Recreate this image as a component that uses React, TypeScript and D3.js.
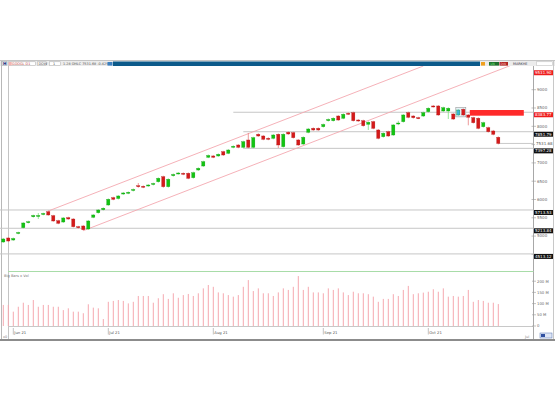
import React from 'react';
import * as d3 from 'd3';

const W = 555;
const H = 400;

// ---- Data (daily candles) ----
const opens = [4839,4948,4893,5071,5230,5366,5527,5549,5590,5667,5557,5421,5385,5503,5467,5257,5276,5194,5514,5639,5721,5850,6049,6027,6150,6169,6246,6377,6361,6369,6410,6486,6623,6350,6650,6705,6716,6716,6596,6806,6915,7153,7189,7189,7306,7262,7426,7489,7426,7626,7426,7781,7735,7672,7672,7781,7443,7836,7825,7626,7516,7836,7945,7945,7989,8153,8153,8281,8219,8355,8372,8172,8153,8055,8126,7899,7716,7852,7762,8063,8126,8372,8281,8235,8281,8399,8555,8555,8418,8418,8336,8309,8464,8309,8235,8219,7989,7962,7872,7699];
const closes = [4921,4866,4934,5098,5358,5393,5563,5563,5618,5577,5413,5350,5495,5467,5257,5230,5175,5413,5577,5713,5760,6005,6005,6096,6178,6197,6273,6361,6333,6396,6437,6579,6350,6552,6683,6724,6689,6579,6732,6852,7033,7202,7153,7235,7216,7352,7454,7426,7579,7426,7689,7735,7645,7645,7762,7489,7781,7790,7689,7489,7699,7926,7899,7899,8049,8186,8219,8172,8328,8336,8153,8145,8016,8109,7945,7672,7809,7735,8036,8090,8309,8246,8235,8219,8372,8492,8536,8309,8508,8492,8199,8445,8309,8246,8098,7945,8098,7852,7781,7531.68];
const highs = [4950,4975,4960,5120,5380,5420,5585,5631,5640,5700,5580,5445,5520,5530,5490,5280,5300,5440,5600,5740,5785,6030,6075,6120,6205,6220,6300,6450,6385,6420,6460,6605,6650,6580,6710,6750,6740,6740,6760,6880,7060,7230,7215,7260,7330,7380,7480,7515,7605,7817,7715,7810,7760,7700,7790,7805,7810,7860,7850,7650,7725,7955,7970,7970,8075,8215,8245,8305,8355,8380,8400,8195,8180,8135,8150,7925,7835,7880,8060,8150,8335,8400,8305,8260,8400,8520,8580,8580,8535,8520,8360,8470,8490,8335,8260,8245,8125,7990,7900,7725];
const lows = [4815,4840,4870,5050,5210,5345,5505,5467,5570,5555,5390,5325,5360,5445,5235,5205,5150,5170,5490,5615,5700,5825,5980,6000,6125,6145,6220,6320,6310,6345,6385,6460,6320,6325,6625,6680,6665,6555,6570,6780,6890,7130,7130,7165,7190,7240,7400,7400,7400,7400,7400,7710,7620,7620,7645,7407,7420,7765,7665,7465,7490,7810,7875,7875,7965,8130,8130,8150,8195,8310,8130,8120,7990,7899,7920,7645,7690,7710,7740,8030,8100,8220,8210,8195,8255,8375,8510,8285,8395,8199,8175,8285,8285,8027,8075,7920,7965,7830,7755,7505];
const volumes = [94,94,64,86,104,94,116,86,94,94,86,86,71,79,64,64,57,97,82,79,31,108,112,116,112,101,108,134,134,134,104,124,142,121,146,126,138,143,134,146,168,183,175,150,146,138,131,138,175,205,156,168,146,146,134,150,168,161,175,223,161,175,150,150,146,168,161,168,150,138,153,146,146,142,131,108,121,121,142,134,161,179,142,146,149,153,164,153,168,131,134,131,134,161,108,116,112,104,104,98];

const monthTickIdx = [2, 21, 42, 64, 85];
const monthLabels = ['Jun 21', 'Jul 21', 'Aug 21', 'Sep 21', 'Oct 21'];
const priceTicks = [4500, 5000, 5500, 6000, 6500, 7000, 7500, 8000, 8500, 9000];
const volTicks = [0, 50, 100, 150, 200];
const volTickLabels = ['0', '50 M', '100 M', '150 M', '200 M'];

// horizontal levels
const levelValues = [8383.77, 7851.79, 7397.28, 5713.53, 5213.84, 4513.12];
const levelStartIdx = [46, 48, 48, -0.66, -0.66, -0.66];
const levelLabelKinds = ['red', 'black', 'black', 'black', 'black', 'black'];
const lastPrice = 7531.68;
const channelLabelValue = 9531.9;

// channel anchor points (candle index, price)
const upperChannelIdx = [9, 84];
const upperChannelPrice = [5686, 9647];
const lowerChannelIdx = [16, 101.3];
const lowerChannelPrice = [5148, 9653];

// resistance zone
const zoneIdx = [93.3, 104.1];
const zonePrice = [8290, 8445];
const selectedIdx = [91, 92];

const fmt = d3.format('.2f');

export default function App() {
  const x = d3.scaleLinear().domain([0, 99]).range([3.3, 498.3]);
  const y = d3.scaleLinear().domain([4046.4, 9647.5]).range([271, 66]);
  const yv = d3.scaleLinear().domain([0, 200]).range([326, 281.2]);
  const axisX = 533.5;
  const font = 'DejaVu Sans, Arial, sans-serif';

  const line = d3.line<[number, number]>().x((d) => x(d[0])).y((d) => y(d[1]));
  const upper = line(upperChannelIdx.map((v, k) => [v, upperChannelPrice[k]] as [number, number])) || '';
  const lower = line(lowerChannelIdx.map((v, k) => [v, lowerChannelPrice[k]] as [number, number])) || '';

  const selTop = y(d3.max(selectedIdx, (i) => highs[i]) as number) - 1;
  const selBot = y(d3.min(selectedIdx, (i) => lows[i]) as number) + 1;

  // label boxes occupy [y(v), y(v)+5]; last price text occupies around y(lastPrice)
  const boxes: [number, number][] = [
    ...levelValues.map((v) => [y(v), y(v) + 5] as [number, number]),
    [y(channelLabelValue), y(channelLabelValue) + 5],
    [y(lastPrice) - 2.3, y(lastPrice) + 2.3],
  ];
  const tickVisible = (t: number) => {
    const a = y(t) - 1.8;
    const b = y(t) + 1.8;
    return !boxes.some(([p, q]) => b > p && a < q);
  };

  return (
    <svg width={W} height={H} style={{ position: 'absolute', left: 0, top: 0, background: '#fff' }} fontFamily={font}>
      <defs>
        <clipPath id="mainclip">
          <rect x={0} y={66} width={533.5} height={205} />
        </clipPath>
      </defs>
      <rect x={0} y={0} width={W} height={H} fill="#fff" />

      {/* top frame / toolbar */}
      <line x1={0} x2={W} y1={60.5} y2={60.5} stroke="#c4c4c4" />
      <rect x={0} y={61} width={W} height={5} fill="#ececec" />
      <rect x={2} y={61.5} width={5} height={4} fill="#e8e8f0" stroke="#9aa" strokeWidth={0.5} />
      <text x={3} y={65.2} fontSize={4.2} fontWeight="bold" fill="#203080">H</text>
      <rect x={8.5} y={61.8} width={27} height={3.8} fill="#fff" stroke="#aaa" strokeWidth={0.5} />
      <rect x={8.7} y={62} width={3} height={3.4} fill="#f4b4b4" />
      <text x={12} y={65} fontSize={3.4} fill="#c04040">GOOGL D1</text>
      <rect x={37.5} y={61.8} width={9} height={3.8} fill="#fff" stroke="#aaa" strokeWidth={0.5} />
      <text x={38.5} y={65} fontSize={3.4} fill="#444">DOW</text>
      <rect x={49.5} y={61.8} width={11} height={3.8} fill="#fff" stroke="#aaa" strokeWidth={0.5} />
      <text x={53} y={65} fontSize={3.4} fill="#444">1</text>
      <text x={63} y={65} fontSize={3.4} fill="#555">1.28  OHLC  7531.68  -0.42%</text>
      <rect x={107.5} y={62} width={5} height={3.6} fill="#3a7fc0" />
      <rect x={113} y={61.5} width={367} height={4.5} fill="#0c5a8a" />
      <rect x={481} y={62} width={4} height={3.6} fill="#f0a020" />
      <rect x={489} y={62} width={10} height={3.6} fill="#1e6e2e" />
      <text x={490.5} y={65.1} fontSize={3.2} fill="#8f8">LN</text>
      <rect x={499.5} y={62} width={8.5} height={3.6} fill="#b02020" />
      <text x={500.5} y={65.1} fontSize={3.2} fill="#fcc">DW</text>
      <text x={513} y={65.1} fontSize={3.4} fill="#334">MARKHE</text>
      <rect x={536.5} y={61.8} width={16} height={3.8} fill="#fff" stroke="#bbb" strokeWidth={0.5} />

      {/* frame lines */}
      <line x1={1.5} x2={1.5} y1={61} y2={340} stroke="#b8b8b8" />
      <line x1={8.5} x2={8.5} y1={66} y2={340} stroke="#c4c4c4" />
      <line x1={553.5} x2={553.5} y1={61} y2={340} stroke="#c8c8c8" />
      <line x1={axisX} x2={axisX} y1={66} y2={340} stroke="#a8a8a8" />

      {/* price ticks */}
      {priceTicks.map((t) => (
        <g key={'pt' + t}>
          <line x1={axisX - 2} x2={axisX + 2.5} y1={y(t)} y2={y(t)} stroke="#999" strokeWidth={0.6} />
          {tickVisible(t) && <text x={537} y={y(t) + 1.4} fontSize={4} fill="#666">{t}</text>}
        </g>
      ))}

      {/* level lines */}
      {levelValues.map((v, k) => (
        <line key={'lv' + k} x1={levelStartIdx[k] < 0 ? 0 : x(levelStartIdx[k])} x2={axisX} y1={y(v)} y2={y(v)} stroke="#c6c6c6" strokeWidth={1} />
      ))}
      <line x1={x(99)} x2={axisX} y1={y(lastPrice)} y2={y(lastPrice)} stroke="#bbb" strokeWidth={0.8} />

      {/* channel */}
      <g clipPath="url(#mainclip)">
        <path d={upper} stroke="#f4a8b0" strokeWidth={0.9} fill="none" />
        <path d={lower} stroke="#f4a8b0" strokeWidth={0.9} fill="none" />
      </g>

      {/* zone */}
      <rect x={x(zoneIdx[0])} y={y(zonePrice[1])} width={x(zoneIdx[1]) - x(zoneIdx[0])} height={y(zonePrice[0]) - y(zonePrice[1])} fill="#ff2a2a" />
      {/* selection */}
      <rect x={x(selectedIdx[0]) - 2.5} y={selTop} width={x(selectedIdx[1]) - x(selectedIdx[0]) + 5} height={selBot - selTop} fill="#e6f2f8" stroke="#9a9a9a" strokeWidth={0.6} />

      {/* candles */}
      {opens.map((o, i) => {
        const c = closes[i];
        const up = c >= o;
        const sel = i === selectedIdx[0];
        const col = sel ? '#3fb4d8' : up ? '#12c412' : '#d41a1a';
        const wick = sel ? '#7fc8e0' : up ? '#7ee07e' : '#e88080';
        const top = y(Math.max(o, c));
        const bot = y(Math.min(o, c));
        const h = Math.max(1, bot - top);
        const cx = x(i);
        return (
          <g key={'c' + i}>
            <line x1={cx} x2={cx} y1={y(highs[i])} y2={y(lows[i])} stroke={wick} strokeWidth={0.8} />
            <rect x={cx - 1.6} y={top} width={3.2} height={h} fill={col} stroke={up ? '#0a9a0a' : '#b01010'} strokeWidth={0.3} />
          </g>
        );
      })}

      {/* right labels */}
      {levelValues.map((v, k) => (
        <g key={'ll' + k}>
          <rect x={534} y={y(v)} width={19} height={5} fill={levelLabelKinds[k] === 'red' ? '#ee1c1c' : '#111'} />
          <text x={535} y={y(v) + 3.9} fontSize={4} fill="#fff">{fmt(v)}</text>
        </g>
      ))}
      <rect x={534} y={y(channelLabelValue)} width={19} height={5} fill="#ee1c1c" />
      <text x={535} y={y(channelLabelValue) + 3.9} fontSize={4} fill="#fff">{fmt(channelLabelValue)}</text>
      <rect x={535} y={y(lastPrice) - 2.3} width={17} height={4.6} fill="#fff" />
      <text x={536} y={y(lastPrice) + 1.4} fontSize={4} fill="#555">{fmt(lastPrice)}</text>

      {/* pane separator */}
      <line x1={8} x2={axisX} y1={271.5} y2={271.5} stroke="#a8dca8" strokeWidth={1} />
      <text x={4} y={277} fontSize={3.6} fill="#777">Big Bars x Vol</text>

      {/* volume */}
      {volumes.map((v, i) => (
        <line key={'v' + i} x1={x(i)} x2={x(i)} y1={yv(0)} y2={yv(v)} stroke="#f5a8b0" strokeWidth={1} />
      ))}
      <line x1={8} x2={axisX} y1={326.5} y2={326.5} stroke="#c8c8c8" />
      {volTicks.map((t, k) => (
        <g key={'vt' + t}>
          <line x1={axisX - 1.5} x2={axisX + 2.5} y1={yv(t)} y2={yv(t)} stroke="#999" strokeWidth={0.6} />
          <text x={537} y={yv(t) + 1.4} fontSize={3.8} fill="#666">{volTickLabels[k]}</text>
        </g>
      ))}

      {/* x axis */}
      {monthTickIdx.map((idx, k) => (
        <g key={'mx' + k}>
          <line x1={x(idx)} x2={x(idx)} y1={328} y2={334.5} stroke="#999" strokeWidth={0.6} />
          <text x={x(idx) + 1} y={334} fontSize={3.8} fill="#555">{monthLabels[k]}</text>
        </g>
      ))}
      <text x={3} y={338} fontSize={3.4} fill="#777">x0</text>
      <text x={525} y={338} fontSize={3.4} fill="#777">Jul</text>
      <rect x={540} y={333} width={12} height={5} fill="#dfe6f5" stroke="#5070b0" strokeWidth={0.5} />
      <rect x={541} y={334} width={4} height={3} fill="#3050a0" />

      {/* bottom frame */}
      <rect x={0} y={339} width={W} height={2} fill="#8c8c8c" />
    </svg>
  );
}
